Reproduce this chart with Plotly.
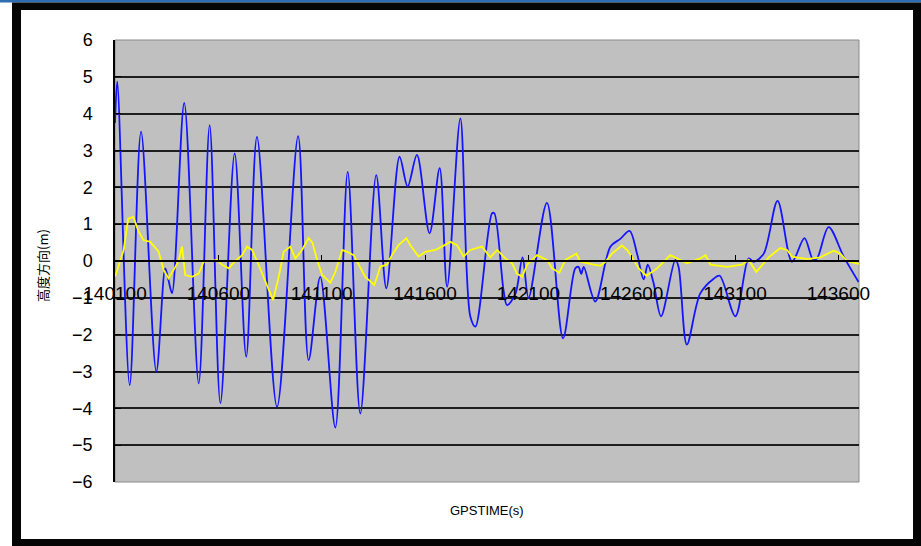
import plotly.graph_objects as go

# ---------------- data ----------------
blue_t = [140100, 140111, 140171, 140226, 140300, 140343, 140358, 140376, 140435, 140505,
          140558, 140610, 140679, 140735, 140787, 140884, 140986, 141037, 141093, 141166,
          141226, 141287, 141364, 141413, 141477, 141516, 141561, 141622, 141671, 141707,
          141771, 141819, 141844, 141924, 141935, 141980, 141997, 142037, 142072, 142101,
          142190, 142268, 142327, 142343, 142356, 142368, 142424, 142497, 142545, 142590,
          142626, 142658, 142678, 142706, 142742, 142811, 142827, 142867, 142932, 142997,
          143026, 143102, 143166, 143190, 143239, 143306, 143376, 143436, 143478, 143497,
          143553, 143626, 143698]
blue_v = [3.75, 4.87, -3.37, 3.51, -3.0, -0.2, -0.5, -0.87, 4.29, -3.32,
          3.69, -3.86, 2.92, -2.6, 3.37, -3.96, 3.39, -2.69, -0.43, -4.52,
          2.42, -4.14, 2.33, -0.74, 2.83, 2.02, 2.88, 0.75, 2.52, -0.7,
          3.87, -1.5, -1.78, 1.29, 1.3, -0.79, -1.2, -0.9, 0.1, -1.0,
          1.58, -2.1, -0.2, -0.16, -0.35, -0.16, -1.1, 0.39, 0.6, 0.82,
          0.2, -0.5, -0.1, -0.6, -1.5, 0.03, -0.16, -2.27, -0.88, -0.48,
          -0.4, -1.5, 0.07, -0.02, 0.2, 1.63, -0.02, 0.62, 0.03, 0.07,
          0.92, 0.12, -0.57]

yellow_t = [140100, 140142, 140164, 140189, 140214, 140238, 140271, 140311, 140335, 140359,
            140384, 140408, 140424, 140440, 140473, 140505, 140529, 140561, 140594, 140618,
            140650, 140682, 140715, 140739, 140763, 140787, 140819, 140836, 140865, 140892,
            140916, 140948, 140973, 141005, 141037, 141055, 141078, 141102, 141142, 141166,
            141199, 141223, 141255, 141279, 141311, 141355, 141384, 141416, 141440, 141472,
            141510, 141529, 141569, 141602, 141650, 141682, 141723, 141755, 141787, 141819,
            141876, 141916, 141949, 141989, 142021, 142045, 142070, 142094, 142142, 142190,
            142215, 142250, 142279, 142332, 142352, 142416, 142448, 142473, 142505, 142553,
            142578, 142610, 142634, 142671, 142723, 142787, 142820, 142868, 142932, 142957,
            142981, 143062, 143134, 143166, 143203, 143231, 143263, 143319, 143352, 143376,
            143449, 143513, 143577, 143610, 143642, 143700]
yellow_v = [-0.43, 0.3, 1.15, 1.2, 0.8, 0.57, 0.52, 0.25, -0.24, -0.47,
            -0.24, 0.0, 0.39, -0.38, -0.43, -0.34, -0.02, 0.0, 0.03, -0.1,
            -0.2, 0.0, 0.16, 0.39, 0.3, 0.0, -0.43, -0.7, -1.06, -0.43,
            0.25, 0.39, 0.07, 0.3, 0.62, 0.5, 0.03, -0.38, -0.59, -0.3,
            0.3, 0.25, 0.16, -0.1, -0.43, -0.65, -0.15, -0.1, 0.16, 0.43,
            0.62, 0.43, 0.12, 0.25, 0.3, 0.39, 0.52, 0.43, 0.12, 0.3,
            0.39, 0.1, 0.3, 0.07, -0.06, -0.34, -0.43, -0.1, 0.16, 0.03,
            -0.2, -0.32, 0.03, 0.2, -0.02, -0.1, -0.13, -0.02, 0.2, 0.42,
            0.3, 0.03, -0.2, -0.4, -0.2, 0.16, 0.07, -0.06, 0.07, 0.16,
            -0.1, -0.16, -0.1, 0.03, -0.3, -0.1, 0.1, 0.35, 0.3, 0.12,
            0.05, 0.1, 0.28, 0.2, 0.0, -0.08]

x_ticks = [140100, 140600, 141100, 141600, 142100, 142600, 143100, 143600]
y_ticks = [-6, -5, -4, -3, -2, -1, 0, 1, 2, 3, 4, 5, 6]
x_title = "GPSTIME(s)"
y_title = "高度方向(m)"

# ---------------- layout geometry ----------------
W, H = 921, 546
ML, MR, MT, MB = 115, 62, 40, 64
PW, PH = W - ML - MR, H - MT - MB


def px(x):
    return (x - ML) / PW


def py(y):
    return (H - MB - y) / PH


fig = go.Figure()
fig.add_trace(go.Scatter(x=blue_t, y=blue_v, mode="lines",
                         line=dict(color="#1414ff", width=1.8, shape="spline", smoothing=0.9),
                         hoverinfo="skip"))
fig.add_trace(go.Scatter(x=yellow_t, y=yellow_v, mode="lines",
                         line=dict(color="#ffff00", width=1.8),
                         hoverinfo="skip"))

shapes = [
    # top blue strip
    dict(type="rect", xref="paper", yref="paper", x0=px(0), x1=px(W), y0=py(2.5), y1=py(0),
         fillcolor="#2f6db3", line=dict(width=0), layer="below"),
    # black frame
    dict(type="rect", xref="paper", yref="paper", x0=px(12), x1=px(W), y0=py(H), y1=py(2.5),
         fillcolor="#050505", line=dict(width=0), layer="below"),
    # white inner area
    dict(type="rect", xref="paper", yref="paper", x0=px(21), x1=px(913), y0=py(539), y1=py(10),
         fillcolor="#ffffff", line=dict(width=0), layer="below"),
    # gray plot area
    dict(type="rect", xref="paper", yref="paper", x0=0, x1=1, y0=0, y1=1,
         fillcolor="#c0c0c0", line=dict(color="#8a8a8a", width=1), layer="below"),
]

fig.update_layout(
    width=W, height=H,
    margin=dict(l=ML, r=MR, t=MT, b=MB),
    paper_bgcolor="#ffffff",
    plot_bgcolor="rgba(0,0,0,0)",
    showlegend=False,
    shapes=shapes,
    font=dict(family="Liberation Sans, Arial, sans-serif", color="#000000"),
    xaxis=dict(
        range=[140100, 143700],
        tickvals=x_ticks,
        ticktext=[str(v) for v in x_ticks],
        showgrid=False,
        zeroline=False,
        showline=True, linecolor="#000000", linewidth=1.5,
        ticks="inside", ticklen=5, tickcolor="#000000", tickwidth=1,
        anchor="free", position=0.5,
        tickfont=dict(size=19, family="Liberation Sans, Arial, sans-serif"),
        ticklabelstandoff=15,
    ),
    yaxis=dict(
        range=[-6, 6],
        tickvals=y_ticks,
        showgrid=True, gridcolor="#1e1e1e", gridwidth=1.5,
        zeroline=False,
        showline=True, linecolor="#000000", linewidth=1.5,
        ticks="inside", ticklen=6, tickcolor="#000000",
        tickfont=dict(size=18, family="Liberation Sans, Arial, sans-serif"),
        ticklabelstandoff=17,
    ),
    annotations=[
        dict(text=x_title, xref="paper", yref="paper", x=px(487), y=py(510),
             showarrow=False, xanchor="center", yanchor="middle",
             font=dict(size=13, family="Liberation Sans, Arial, sans-serif", color="#000000")),
        dict(text=y_title, xref="paper", yref="paper", x=px(42), y=py(266),
             showarrow=False, xanchor="center", yanchor="middle", textangle=-90,
             font=dict(size=13, family="Noto Sans CJK JP, sans-serif", color="#000000")),
    ],
)

fig.write_html("out.html")
